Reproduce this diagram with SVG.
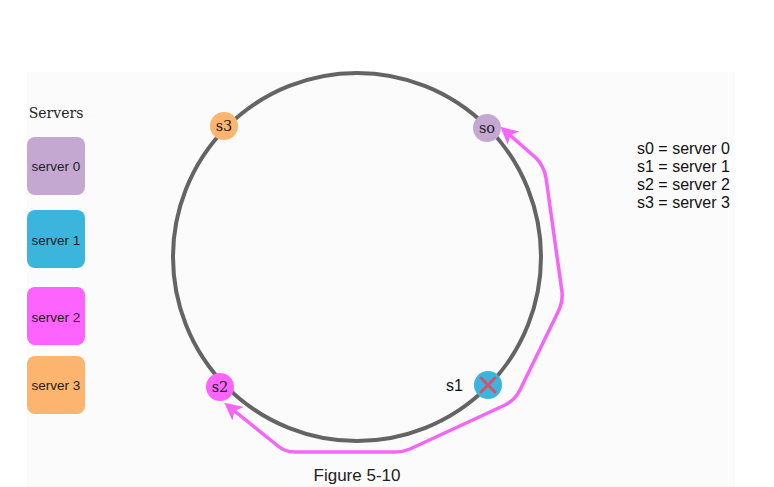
<svg xmlns="http://www.w3.org/2000/svg" width="774" height="487" viewBox="0 0 774 487">
<defs>
<style>
.box{stroke:none}
.bt{font-family:"Liberation Sans",Arial,sans-serif;font-size:13.5px;fill:#222;text-anchor:middle}
.nt{font-family:"DejaVu Serif","Liberation Serif",serif;font-size:14.5px;fill:#222;text-anchor:middle}
.lg{font-family:"Liberation Sans",Arial,sans-serif;font-size:16px;fill:#111}
.conn{fill:none;stroke:#f565f7;stroke-width:3.5;stroke-linejoin:round}
</style>
<marker id="ah" viewBox="0 0 10 10" refX="8" refY="5" markerWidth="5" markerHeight="5" orient="auto-start-reverse" markerUnits="strokeWidth">
<path d="M0,0 L10,5 L0,10 L2.5,5 Z" fill="#f565f7"/>
</marker>
</defs>
<rect x="0" y="0" width="774" height="487" fill="#ffffff"/>
<rect x="27" y="72" width="708" height="415" fill="#fbfbfb"/>
<text x="56" y="118" font-family="DejaVu Serif,Liberation Serif,serif" font-size="14" fill="#222" text-anchor="middle">Servers</text>
<g id="server0"><rect class="box" x="27" y="137" width="58" height="58" rx="8" fill="#c4a8d2"/><text class="bt" x="56" y="171">server 0</text></g>
<g id="server1"><rect class="box" x="27" y="210" width="58" height="58" rx="8" fill="#3bb5db"/><text class="bt" x="56" y="245">server 1</text></g>
<g id="server2"><rect class="box" x="27" y="287" width="58" height="58" rx="8" fill="#fd63fd"/><text class="bt" x="56" y="322">server 2</text></g>
<g id="server3"><rect class="box" x="27" y="356" width="58" height="58" rx="8" fill="#fdb46e"/><text class="bt" x="56" y="390">server 3</text></g>
<g id="ring"><circle cx="357" cy="257" r="184" fill="none" stroke="#646464" stroke-width="4"/></g>
<g id="connectors">
<path class="conn" d="M227,405 L278,446 Q285,452 295,452 L395,452 Q403,452 410,449 L505,405 Q515,400 520,390 L558,312 Q563,302 562,292 L546,178 Q544,166 536,158 L503,129" marker-start="url(#ah)" marker-end="url(#ah)"/>
</g>
<g id="s3"><circle cx="224" cy="126" r="14" fill="#fdb46e"/><text class="nt" x="224" y="131">s3</text></g>
<g id="s0"><circle cx="487" cy="128" r="14" fill="#c4a8d2"/><text class="nt" x="487" y="133">so</text></g>
<g id="s2"><circle cx="220" cy="387" r="14" fill="#fd63fd"/><text class="nt" x="220" y="392">s2</text></g>
<g id="s1"><circle cx="488" cy="385" r="14" fill="#3bb5db"/>
<path d="M481,378 L495,392 M495,378 L481,392" stroke="#d64f6d" stroke-width="3" stroke-linecap="round"/>
<text class="lg" x="446" y="391">s1</text></g>
<g id="legend">
<text class="lg" x="637" y="154">s0 = server 0</text>
<text class="lg" x="637" y="172">s1 = server 1</text>
<text class="lg" x="637" y="190">s2 = server 2</text>
<text class="lg" x="637" y="208">s3 = server 3</text>
</g>
<text x="357" y="481" font-family="Liberation Sans,Arial,sans-serif" font-size="17" fill="#222" text-anchor="middle">Figure 5-10</text>
</svg>
